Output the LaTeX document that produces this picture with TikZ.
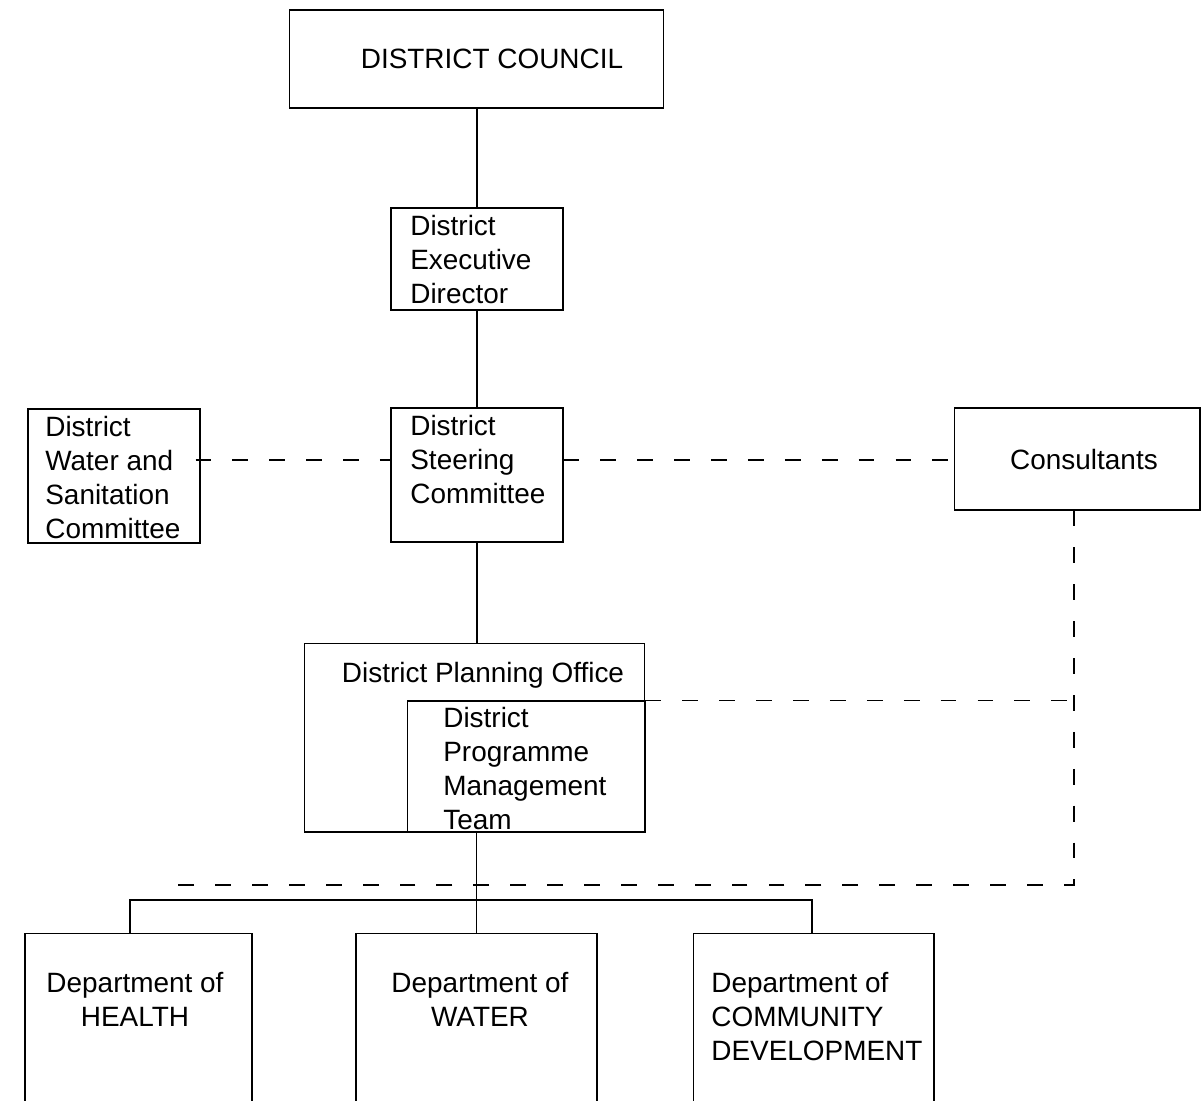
\documentclass[tikz,border=0pt]{standalone}
\usepackage{fontspec}
\setmainfont{Liberation Sans}
\begin{document}
\begin{tikzpicture}[x=0.02cm,y=-0.02cm,
  box/.style={draw, line width=0.6pt, inner sep=0pt, rectangle},
  txt/.style={inner sep=0pt, align=left, font=\fontsize{15.9}{19.35}\selectfont},
  ctxt/.style={inner sep=0pt, align=center, font=\fontsize{15.9}{19.35}\selectfont},
  conn/.style={line width=0.7pt},
  dashconn/.style={line width=0.8pt, dash pattern=on 9pt off 12pt},
]
\useasboundingbox (0,0) rectangle (1201,1100);
\clip (0,0) rectangle (1201,1100);

% boxes
\node[box, minimum width=7.5cm,  minimum height=1.96cm] (dc)     at (476.5,59) {};
\node[box, minimum width=3.44cm, minimum height=2.04cm] (ded)    at (477,259) {};
\node[box, minimum width=3.44cm, minimum height=2.68cm] (dsc)    at (477,475) {};
\node[box, minimum width=3.44cm, minimum height=2.68cm] (dwsc)   at (114,476) {};
\node[box, minimum width=4.92cm, minimum height=2.04cm] (cons)   at (1077,459) {};
\node[box, minimum width=6.82cm, minimum height=3.78cm] (dpo)    at (474.5,737.5) {};
\node[box, minimum width=4.76cm, minimum height=2.62cm] (dpmt)   at (526,766.5) {};
\node[box, minimum width=4.54cm, minimum height=3.54cm] (health) at (138.5,1021.5) {};
\node[box, minimum width=4.82cm, minimum height=3.54cm] (water)  at (476.5,1021.5) {};
\node[box, minimum width=4.82cm, minimum height=3.54cm] (comm)   at (813.5,1021.5) {};

% texts
\node[txt, anchor=base] (tdc) at (492,68) {DISTRICT COUNCIL};
\node[txt, anchor=north west] (tded) at (410,215) {District\\Executive\\Director};
\node[txt, anchor=north west] (tdsc) at (410,415) {District\\Steering\\Committee};
\node[txt, anchor=north west] (tdwsc) at (45,416) {District\\Water and\\Sanitation\\Committee};
\node[txt, anchor=base] (tcons) at (1084,469) {Consultants};
\node[txt, anchor=base] (tdpo) at (483,682) {District Planning Office};
\node[txt, anchor=north west] (tdpmt) at (443,707) {District\\Programme\\Management\\Team};
\node[ctxt, anchor=north] (thealth) at (135,972) {Department of\\HEALTH};
\node[ctxt, anchor=north] (twater) at (480,972) {Department of\\WATER};
\node[txt, anchor=north west] (tcomm) at (711,972) {Department of\\COMMUNITY\\DEVELOPMENT};

% solid connectors
\draw[conn] (ded.north |- dc.south) -- (ded.north);
\draw[conn] (ded.south) -- (dsc.north);
\draw[conn] (dsc.south) -- (dsc.south |- dpo.north);
\draw[conn] (water.north |- dpo.south) -- (water.north);
\coordinate (bus) at (476.5,900);
\coordinate (hdrop) at (130,933);
\coordinate (cdrop) at (812,933);
\draw[conn] (hdrop) |- (bus) -| (cdrop);

% dashed connectors
\coordinate (dcorner) at (1074,885);
\coordinate (dend) at (175,885);
\draw[dashconn] ([xshift=-0.1cm]dwsc.east |- 0,460) -- (dsc.west |- 0,460);
\draw[dashconn] (dsc.east |- 0,460) -- (cons.west |- 0,460);
\draw[dashconn] (cons.south -| dcorner) -- (dcorner) -- (dend);
\draw[dashconn] (dpmt.north east) -- (dpmt.north east -| dcorner);
\end{tikzpicture}
\end{document}
